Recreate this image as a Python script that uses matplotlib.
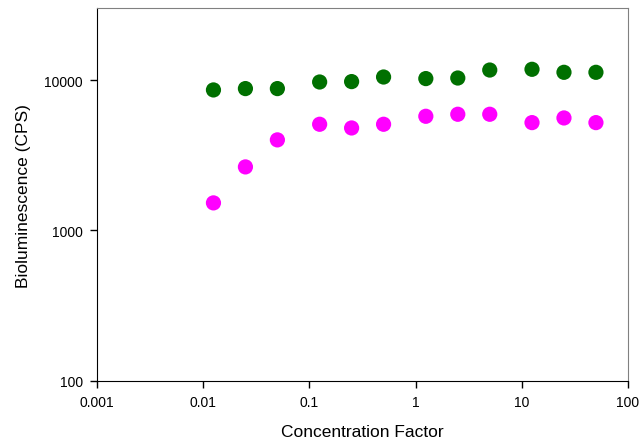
import matplotlib
matplotlib.use("Agg")
import matplotlib.pyplot as plt
from matplotlib.ticker import FixedLocator, FuncFormatter, NullLocator

plt.rcParams['font.family'] = ['Liberation Sans', 'DejaVu Sans']

# concentration factors and bioluminescence readings (CPS)
conc = [0.0125, 0.025, 0.05, 0.125, 0.25, 0.5, 1.25, 2.5, 5, 12.5, 25, 50]
green_cps = [8590, 8770, 8770, 9700, 9760, 10470, 10220, 10310, 11650, 11780, 11250, 11250]
magenta_cps = [1525, 2645, 4000, 5080, 4800, 5080, 5740, 5920, 5920, 5210, 5595, 5210]

x_ticks = [0.001, 0.01, 0.1, 1, 10, 100]
y_ticks = [100, 1000, 10000]

fig = plt.figure(figsize=(6.44, 4.39), dpi=100)
ax = fig.add_axes([0.1506, 0.130, 0.8244, 0.849])

ax.scatter(conc, green_cps, s=120, color='#007000', edgecolors='none', zorder=3)
ax.scatter(conc, magenta_cps, s=120, color='#ff00ff', edgecolors='none', zorder=3)

ax.set_xscale('log')
ax.set_yscale('log')
ax.set_xlim(0.001, 100)
ax.set_ylim(100, 30000)

fmt = FuncFormatter(lambda v, p: '%g' % v)
ax.xaxis.set_major_locator(FixedLocator(x_ticks))
ax.yaxis.set_major_locator(FixedLocator(y_ticks))
ax.xaxis.set_major_formatter(fmt)
ax.yaxis.set_major_formatter(fmt)
ax.xaxis.set_minor_locator(NullLocator())
ax.yaxis.set_minor_locator(NullLocator())
ax.tick_params(direction='out', length=5, width=1, labelsize=10, pad=5)

for side in ['top', 'right']:
    ax.spines[side].set_color('#808080')
for side in ['left', 'bottom']:
    ax.spines[side].set_color('black')

ax.set_xlabel('Concentration Factor', fontsize=12.5, labelpad=11)
ax.set_ylabel('Bioluminescence (CPS)', fontsize=12.5, labelpad=10)

fig.savefig('out.png', dpi=100)
